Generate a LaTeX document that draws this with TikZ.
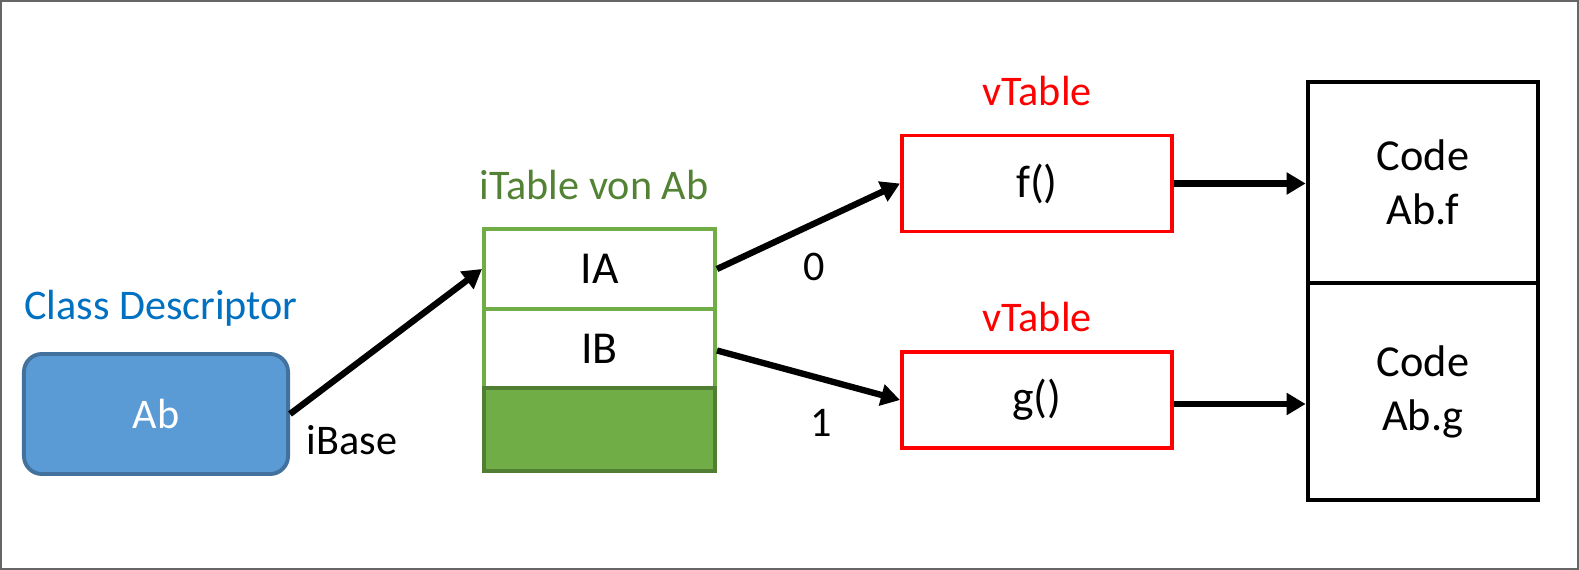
\documentclass[tikz,border=0pt]{standalone}
\usepackage{fontspec}
\setmainfont{Carlito}
\usepackage{xcolor}
\usetikzlibrary{arrows.meta,positioning}
\definecolor{descfill}{HTML}{5B9BD5}
\definecolor{descline}{HTML}{41719C}
\definecolor{desctext}{HTML}{0070C0}
\definecolor{itabline}{HTML}{70AD47}
\definecolor{itabdark}{HTML}{507E32}
\definecolor{itabtext}{HTML}{548235}

\begin{document}
\begin{tikzpicture}[x=0.01cm,y=-0.01cm,
        txt/.style={font=\fontsize{12}{14.5}\selectfont},
        big/.style={font=\fontsize{13}{15}\selectfont},
        cell/.style={draw=itabline,line width=1.1pt,minimum width=2.31cm,inner sep=0pt,big},
        vbox/.style={draw=red,line width=1.1pt,minimum width=2.70cm,minimum height=0.96cm,inner sep=0pt,big},
        codebox/.style={draw,line width=1.3pt,minimum width=2.30cm,inner sep=0pt,align=center,
                        font=\fontsize{12.6}{15.4}\selectfont},
        arr/.style={line width=1.8pt,-{Triangle[length=5.4pt,width=6pt]}}]
        % frame
        \useasboundingbox (0,0) rectangle (1579,570);
        \draw[gray!80!black,line width=0.4pt] (1,1) rectangle (1578,569);

        % Class Descriptor
        \node[txt,text=desctext] (desc) at (161,308) {Class Descriptor};
        \node[draw=descline,fill=descfill,line width=1.1pt,rounded corners=0.18cm,
              minimum width=2.64cm,minimum height=1.2cm,text=white,txt] (ab) at (156,414) {Ab};

        % iTable
        \node[txt,text=itabtext] (itab) at (594,185) {iTable von Ab};
        \node[cell,minimum height=0.80cm] (ia) at (599.5,269) {IA};
        \node[cell,minimum height=0.79cm] (ib) at (599.5,348.5) {IB};
        \node[cell,minimum height=0.83cm,fill=itabline,draw=itabdark] (free) at (599.5,429.5) {};

        % vTables
        \node[txt,text=red] (vtf) at (1037,91) {vTable};
        \node[vbox] (f) at (1037,183.5) {f()};
        \node[txt,text=red] (vtg) at (1037,317) {vTable};
        \node[vbox] (g) at (1037,400) {g()};

        % code
        \node[codebox,minimum height=2.01cm] (codef) at (1423,182.5) {Code\\Ab.f};
        \node[codebox,minimum height=2.17cm] (codeg) at (1423,391.5) {Code\\Ab.g};

        % arrows
        \draw[arr] (ab.east) -- (ia.west);
        \node[txt] (ibase) at (352,440) {iBase};
        \draw[arr] (ia.east) -- (f.west);
        \node[txt] (zero) at (814,267) {0};
        \draw[arr] ([yshift=-0.02cm]ib.east) -- (g.west);
        \node[txt] (one) at (821,423) {1};
        \draw[arr] (f.east) -- (f.east -| codef.west);
        \draw[arr] ([yshift=-0.04cm]g.east) -- ([yshift=-0.04cm]g.east -| codeg.west);
\end{tikzpicture}
\end{document}
